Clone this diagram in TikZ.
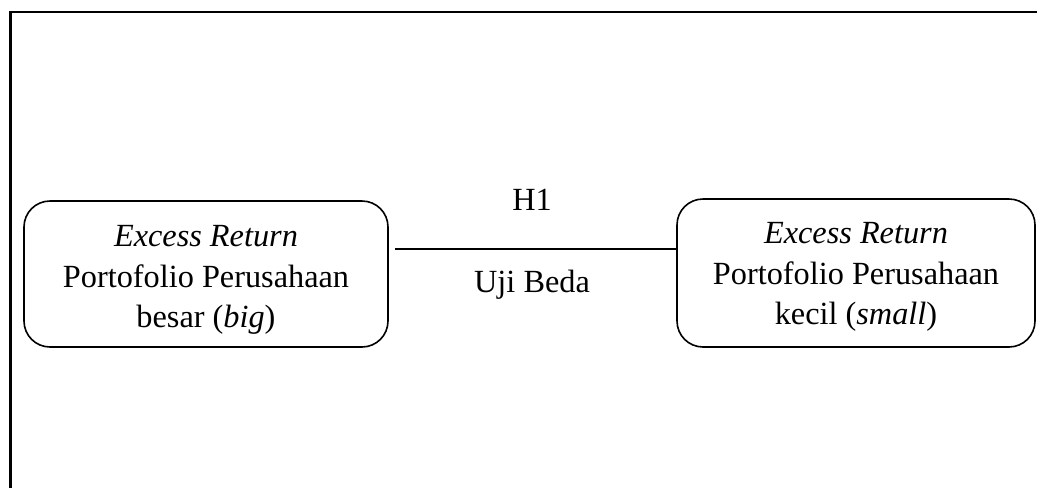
\documentclass[tikz,border=0pt]{standalone}
\usepackage{fontspec}
\setmainfont{Liberation Serif}
\begin{document}
\begin{tikzpicture}[x=1pt,y=-1pt,
  box/.style={draw, line width=1.6pt, rounded corners=26pt, inner sep=0pt},
  boxtext/.style={align=center, font=\fontsize{32.3}{40.5}\selectfont, inner sep=0pt},
  lbl/.style={font=\fontsize{32.3}{38}\selectfont, inner sep=0pt},
  frame/.style={line width=2.6pt},
  conn/.style={line width=1.6pt}]
\useasboundingbox (0,0) rectangle (1037,488);
\draw[frame] (10.5,488) -- (10.5,12) -- (1037,12);
\node[box, minimum width=364pt, minimum height=146pt] (L) at (206,274) {};
\node[boxtext] (Lt) at (206,280)
  {\textit{Excess Return}\\Portofolio Perusahaan\\besar (\textit{big})};
\node[box, minimum width=358pt, minimum height=148pt] (R) at (856,273) {};
\node[boxtext] (Rt) at (856,277)
  {\textit{Excess Return}\\Portofolio Perusahaan\\kecil (\textit{small})};
\coordinate (c1) at (395,249);
\coordinate (c2) at (R.west |- c1);
\draw[conn] (c1) -- (c2);
\node[lbl] (h1) at (532,200) {H1};
\node[lbl] (uji) at (532,285) {Uji Beda};
\end{tikzpicture}
\end{document}
